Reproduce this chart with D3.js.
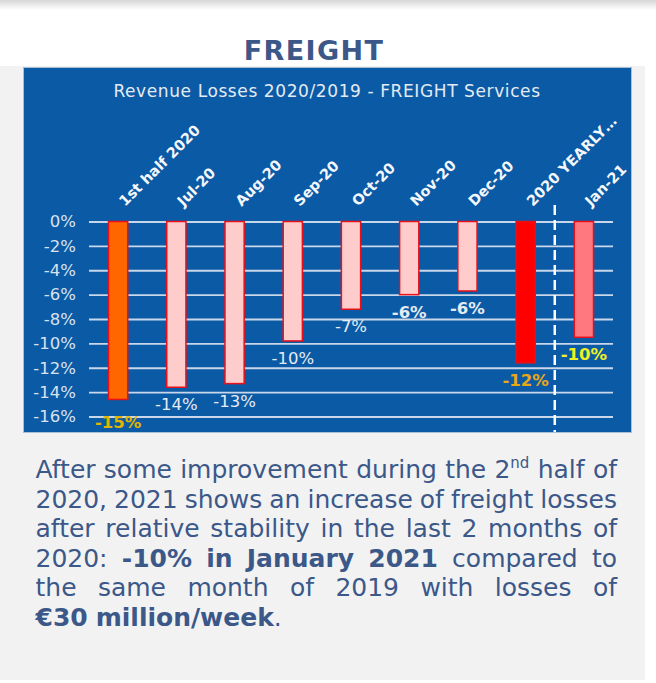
<!DOCTYPE html>
<html>
<head>
<meta charset="utf-8">
<script src="https://cdn.jsdelivr.net/npm/d3@7"></script>
<style>
  body { margin: 0; background: #fff; }
  svg { display: block; font-family: "DejaVu Sans", Verdana, sans-serif; }
</style>
</head>
<body>
<script>
var categories = ["1st half 2020", "Jul-20", "Aug-20", "Sep-20", "Oct-20", "Nov-20", "Dec-20", "2020 YEARLY…", "Jan-21"];
var losses = [-14.6, -13.6, -13.3, -9.8, -7.2, -6.0, -5.7, -11.6, -9.5];
var valueLabels = ["-15%", "-14%", "-13%", "-10%", "-7%", "-6%", "-6%", "-12%", "-10%"];
var yTicks = [0, -2, -4, -6, -8, -10, -12, -14, -16];

// text under the chart, one entry per line: [text, style]
var paragraph = [
  [["After some improvement during the 2", ""], ["nd", "sup"], [" half of", ""]],
  [["2020, 2021 shows an increase of freight losses", ""]],
  [["after relative stability in the last 2 months of", ""]],
  [["2020: ", ""], ["-10% in January 2021", "b"], [" compared to", ""]],
  [["the same month of 2019 with losses of", ""]],
  [["€30 million/week", "b"], [".", ""]]
];

var width = 656;
var height = 683;
var textColor = "#3b5889";

// look of each bar and its label
var barFill = function(d, i) {
  if (i == 0) return "#ff6600";
  if (i == 7) return "#ff0000";
  if (i == 8) return "#ff7880";
  return "#ffcccc";
};
var labelFill = function(d, i) {
  if (i == 0) return "#e2b400";
  if (i == 7) return "#e8a815";
  if (i == 8) return "#f0f020";
  return "#e4ebf3";
};
var labelBold = function(d, i) {
  return (i == 0 || i == 5 || i == 6 || i == 7 || i == 8) ? "bold" : "normal";
};
// the first label sits a bit lower, under the -16% line
var labelDrop = function(d, i) {
  return i == 0 ? 29 : 23;
};

var svg = d3.select("body").append("svg")
  .attr("width", width)
  .attr("height", height);

var grad = svg.append("defs").append("linearGradient")
  .attr("id", "topShade")
  .attr("x1", 0).attr("y1", 0).attr("x2", 0).attr("y2", 1);
grad.append("stop").attr("offset", "0%").attr("stop-color", "#d6d6d6");
grad.append("stop").attr("offset", "100%").attr("stop-color", "#ffffff");

svg.append("rect")
  .attr("x", 0).attr("y", 0)
  .attr("width", width).attr("height", 10)
  .attr("fill", "url(#topShade)");

// grey panel
svg.append("rect")
  .attr("x", 0).attr("y", 66)
  .attr("width", 645).attr("height", 614)
  .attr("fill", "#f2f2f2");

svg.append("text")
  .attr("x", 314)
  .attr("y", 60)
  .attr("text-anchor", "middle")
  .attr("font-size", 27)
  .attr("font-weight", "bold")
  .attr("letter-spacing", 1.4)
  .attr("fill", textColor)
  .text("FREIGHT");

// blue chart area
svg.append("rect")
  .attr("x", 23.5).attr("y", 67.5)
  .attr("width", 608).attr("height", 365)
  .attr("fill", "#0b5aa6")
  .attr("stroke", "#a9bfd8")
  .attr("stroke-width", 1);

svg.append("text")
  .attr("x", 327)
  .attr("y", 97)
  .attr("text-anchor", "middle")
  .attr("font-size", 17)
  .attr("letter-spacing", 0.6)
  .attr("fill", "#e4ebf3")
  .text("Revenue Losses 2020/2019 - FREIGHT Services");

var scaleX = d3.scaleBand()
  .domain(categories)
  .range([89, 613])
  .paddingInner(0.67)
  .paddingOuter(0.335);

var scaleY = d3.scaleLinear()
  .domain([-16, 0])
  .range([416.5, 221.5]);

var yAxis = svg.append("g")
  .attr("transform", "translate(89,0)")
  .call(d3.axisLeft(scaleY)
    .tickValues(yTicks)
    .tickSize(-524)
    .tickPadding(13)
    .tickFormat(function(d) { return d + "%"; }));

yAxis.select(".domain").remove();
yAxis.selectAll(".tick line")
  .attr("stroke", "#c9d7ea")
  .attr("stroke-width", 1.8);
yAxis.selectAll(".tick text")
  .attr("fill", "#d8e2ee")
  .attr("font-size", 16.5)
  .attr("font-family", "DejaVu Sans, Verdana, sans-serif");

// dashed separator between 2020 and 2021
var sepX = scaleX(categories[8]) - (scaleX.step() - scaleX.bandwidth()) / 2;
svg.append("line")
  .attr("x1", sepX).attr("x2", sepX)
  .attr("y1", 205).attr("y2", 432)
  .attr("stroke", "#ffffff")
  .attr("stroke-width", 2.5)
  .attr("stroke-dasharray", "10,5");

svg.selectAll(".bar")
  .data(losses)
  .enter().append("rect")
  .attr("class", "bar")
  .attr("x", function(d, i) { return scaleX(categories[i]); })
  .attr("y", scaleY(0))
  .attr("width", scaleX.bandwidth())
  .attr("height", function(d) { return scaleY(d) - scaleY(0); })
  .attr("fill", barFill)
  .attr("stroke", "#e8101a")
  .attr("stroke-width", 1.5);

svg.selectAll(".value")
  .data(losses)
  .enter().append("text")
  .attr("class", "value")
  .attr("x", function(d, i) { return scaleX(categories[i]) + scaleX.bandwidth() / 2; })
  .attr("y", function(d, i) { return scaleY(d) + labelDrop(d, i); })
  .attr("text-anchor", "middle")
  .attr("font-size", 16.5)
  .attr("font-weight", labelBold)
  .attr("fill", labelFill)
  .text(function(d, i) { return valueLabels[i]; });

svg.selectAll(".cat")
  .data(categories)
  .enter().append("text")
  .attr("class", "cat")
  .attr("transform", function(d) {
    var cx = scaleX(d) + scaleX.bandwidth() / 2;
    return "translate(" + (cx + 7) + "," + 207 + ") rotate(-45)";
  })
  .attr("font-size", 14.5)
  .attr("font-weight", "bold")
  .attr("fill", "#f4f7fb")
  .text(function(d) { return d; });

// justified paragraph
var toWords = function(runs) {
  var words = [[]];
  runs.forEach(function(r) {
    r[0].split(" ").forEach(function(p, i) {
      if (i > 0) words.push([]);
      if (p) words[words.length - 1].push({ t: p, s: r[1] });
    });
  });
  return words.filter(function(w) { return w.length; });
};

var textLeft = 35.5;
var textRight = 617;
var fontSize = 25;
var lineTop = 478;
var lineGap = 29.5;

paragraph.forEach(function(runs, li) {
  var words = toWords(runs);
  var g = svg.append("g");
  var nodes = words.map(function(w) {
    var t = g.append("text")
      .attr("y", lineTop + li * lineGap)
      .attr("font-size", fontSize)
      .attr("fill", textColor);
    var raised = false;
    w.forEach(function(piece) {
      var ts = t.append("tspan").text(piece.t);
      if (piece.s == "b") ts.attr("font-weight", "bold");
      if (piece.s == "sup") {
        ts.attr("font-size", 15).attr("dy", -10);
        raised = true;
      } else if (raised) {
        ts.attr("dy", 10);
        raised = false;
      }
    });
    return t;
  });
  var widths = nodes.map(function(t) { return t.node().getComputedTextLength(); });
  var total = d3.sum(widths);
  var gap = 8;
  if (li < paragraph.length - 1 && nodes.length > 1) {
    gap = (textRight - textLeft - total) / (nodes.length - 1);
  }
  var xPos = textLeft;
  nodes.forEach(function(t, i) {
    t.attr("x", xPos);
    xPos += widths[i] + gap;
  });
});
</script>
</body>
</html>
